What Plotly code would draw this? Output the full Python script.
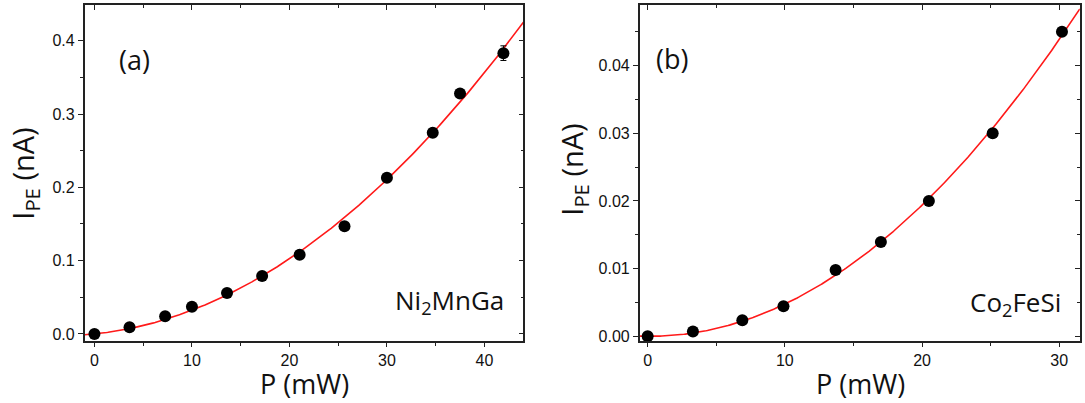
import numpy as np
import plotly.graph_objects as go

# Ni2MnGa: photoemission current vs laser power
p_a = [0.0, 3.6, 7.25, 10.0, 13.6, 17.2, 21.05, 25.65, 30.0, 34.7, 37.5, 41.95]
i_a = [0.0, 0.009, 0.024, 0.037, 0.056, 0.079, 0.108, 0.147, 0.213, 0.2745, 0.328, 0.383]
err_a = [0, 0, 0, 0, 0, 0, 0, 0, 0, 0, 0, 0.01]

# Co2FeSi: photoemission current vs laser power
p_b = [0.0, 3.3, 6.9, 9.9, 13.7, 17.0, 20.5, 25.15, 30.2]
i_b = [0.0, 0.0007, 0.00236, 0.00443, 0.0098, 0.01395, 0.0200, 0.0300, 0.0450]

xr_a, yr_a = [-1, 44], [-0.0102, 0.449]
xr_b, yr_b = [-0.58, 31.5], [-0.00076, 0.0490]


def quad_fit(x, y, xmin, xmax):
    """Least-squares fit I = a*P + b*P^2 through the origin."""
    x = np.asarray(x, float)
    y = np.asarray(y, float)
    A = np.column_stack([x, x ** 2])
    (a, b), *_ = np.linalg.lstsq(A, y, rcond=None)
    xs = np.linspace(xmin, xmax, 300)
    return xs, a * xs + b * xs ** 2


fx_a, fy_a = quad_fit(p_a, i_a, *xr_a)
fx_b, fy_b = quad_fit(p_b, i_b, *xr_b)

fig = go.Figure()

fig.add_trace(go.Scatter(x=fx_a, y=fy_a, mode="lines",
                         line=dict(color="#ff1a1a", width=1.6),
                         xaxis="x", yaxis="y", showlegend=False))
fig.add_trace(go.Scatter(x=p_a, y=i_a, mode="markers",
                         marker=dict(color="black", size=12),
                         error_y=dict(type="data", array=err_a, color="black",
                                      thickness=1, width=3),
                         xaxis="x", yaxis="y", showlegend=False))
fig.add_trace(go.Scatter(x=fx_b, y=fy_b, mode="lines",
                         line=dict(color="#ff1a1a", width=1.6),
                         xaxis="x2", yaxis="y2", showlegend=False))
fig.add_trace(go.Scatter(x=p_b, y=i_b, mode="markers",
                         marker=dict(color="black", size=12),
                         xaxis="x2", yaxis="y2", showlegend=False))

W, H = 1085, 403
dom_a = [84.7 / W, 523.4 / W]
dom_b = [639.7 / W, 1079.8 / W]
dom_y = [1 - 344 / H, 1 - 4.8 / H]

tickfont = dict(family="Liberation Sans, Arial", size=16, color="#111")
line_kw = dict(showline=True, linecolor="#222", linewidth=1.6, showgrid=False,
               zeroline=False, tickcolor="#222", tickwidth=1.2)


def main_axis(rng, dom, dtick, minor_dtick, anchor, ticklen=5, **extra):
    return dict(range=rng, domain=dom, dtick=dtick, tick0=0, ticks="outside",
                ticklen=ticklen, tickfont=tickfont, anchor=anchor,
                minor=dict(dtick=minor_dtick, tick0=0, ticks="outside",
                           ticklen=3, tickcolor="#222", tickwidth=1.2),
                **line_kw, **extra)


def mirror_axis(rng, dtick, minor_dtick, overlay, side, anchor):
    return dict(range=rng, dtick=dtick, tick0=0, ticks="inside", ticklen=5,
                showticklabels=False, overlaying=overlay, side=side,
                anchor=anchor,
                minor=dict(dtick=minor_dtick, tick0=0, ticks="inside",
                           ticklen=3, tickcolor="#222", tickwidth=1.2),
                **line_kw)


fig.update_layout(
    width=W, height=H,
    margin=dict(l=0, r=0, t=0, b=0),
    paper_bgcolor="white", plot_bgcolor="white",
    xaxis=main_axis(xr_a, dom_a, 10, 5, "y", ticklen=4),
    yaxis=main_axis(yr_a, dom_y, 0.1, 0.05, "x", tickformat=".1f"),
    xaxis2=main_axis(xr_b, dom_b, 10, 5, "y2", ticklen=4),
    yaxis2=main_axis(yr_b, dom_y, 0.01, 0.005, "x2", tickformat=".2f"),
    xaxis3=mirror_axis(xr_a, 10, 5, "x", "top", "y"),
    yaxis3=mirror_axis(yr_a, 0.1, 0.05, "y", "right", "x"),
    xaxis4=mirror_axis(xr_b, 10, 5, "x2", "top", "y2"),
    yaxis4=mirror_axis(yr_b, 0.01, 0.005, "y2", "right", "x2"),
)

# invisible traces so the mirrored frame axes are drawn
for xa, ya, xr, yr in [("x3", "y3", xr_a, yr_a), ("x4", "y4", xr_b, yr_b)]:
    fig.add_trace(go.Scatter(x=[xr[0]], y=[yr[0]], mode="markers",
                             marker=dict(opacity=0), xaxis=xa, yaxis=ya,
                             showlegend=False, hoverinfo="skip"))

label_font = dict(family="Open Sans", color="#111")
ann = []
# axis titles
for xc in [304 / W, 860 / W]:
    ann.append(dict(text="P (mW)", x=xc, y=1 - 406 / H, xref="paper", yref="paper",
                    showarrow=False, font=dict(size=27, **label_font),
                    xanchor="center", yanchor="bottom", borderpad=0))
for xc, yc in [(25 / W, 175), (574 / W, 171)]:
    ann.append(dict(text="I<sub>PE</sub> (nA)", x=xc, y=1 - yc / H, xref="paper",
                    yref="paper", showarrow=False, textangle=-90,
                    font=dict(size=29, **label_font),
                    xanchor="center", yanchor="middle"))
# panel letters and sample names
ann.append(dict(text="(a)", x=117 / W, y=1 - 39 / H, xref="paper", yref="paper",
                showarrow=False, font=dict(size=27, **label_font)))
ann.append(dict(text="(b)", x=671.5 / W, y=1 - 38.5 / H, xref="paper", yref="paper",
                showarrow=False, font=dict(size=27, **label_font)))
ann.append(dict(text="Ni<sub>2</sub>MnGa", x=506 / W, y=1 - 303 / H, xref="paper",
                yref="paper", showarrow=False, xanchor="right", yanchor="middle",
                font=dict(size=26, **label_font)))
ann.append(dict(text="Co<sub>2</sub>FeSi", x=1063 / W, y=1 - 305 / H, xref="paper",
                yref="paper", showarrow=False, xanchor="right", yanchor="middle",
                font=dict(size=26, **label_font)))
fig.update_layout(annotations=ann)

fig.write_html("out.html")
